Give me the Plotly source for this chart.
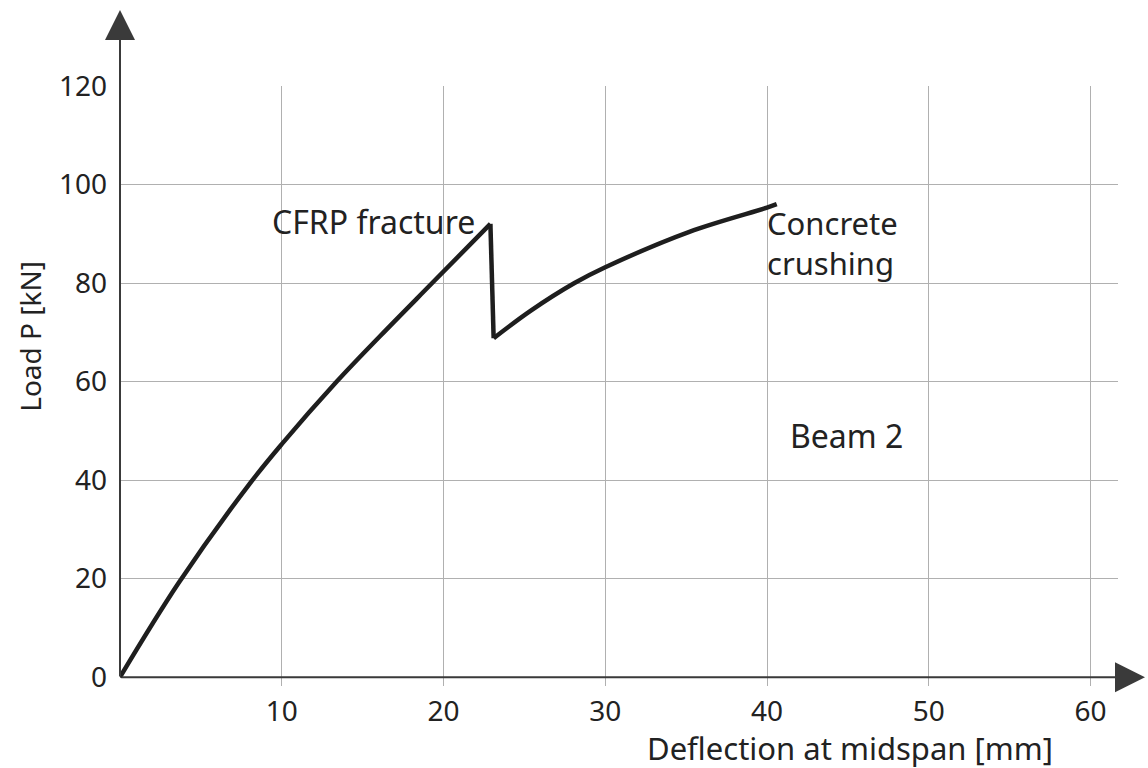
import plotly.graph_objects as go

# Data
deflection_mm = [0, 3.6, 8.0, 10.0, 13.4, 16.1, 19.3, 22.9, 23.1, 25.4, 28.1, 30.0, 35.2, 40.0, 40.6]
load_kN = [0, 19.0, 39.2, 47.3, 60.0, 69.3, 80.0, 92.0, 68.8, 74.4, 80.0, 83.2, 90.4, 95.3, 96.0]

x_ticks = [10, 20, 30, 40, 50, 60]
y_ticks = [0, 20, 40, 60, 80, 100, 120]

PEAK = 7      # index of CFRP fracture point
DROP = 8      # index of the bottom of the load drop

FONT = "Noto Sans"
TXT = "#222222"
LINE = dict(color="#1e1e1e", width=4.5)

fig = go.Figure()
# pre-fracture branch
fig.add_trace(go.Scatter(
    x=deflection_mm[:PEAK + 1], y=load_kN[:PEAK + 1], mode="lines",
    line=dict(**LINE, shape="spline", smoothing=1.0),
    hoverinfo="skip", showlegend=False,
))
# load drop at fracture
fig.add_trace(go.Scatter(
    x=deflection_mm[PEAK:DROP + 1], y=load_kN[PEAK:DROP + 1], mode="lines",
    line=dict(**LINE), hoverinfo="skip", showlegend=False,
))
# post-fracture branch
fig.add_trace(go.Scatter(
    x=deflection_mm[DROP:], y=load_kN[DROP:], mode="lines",
    line=dict(**LINE, shape="spline", smoothing=1.0),
    hoverinfo="skip", showlegend=False,
))

# plot area: left 120px, width 998px; top 86px, height 600.5px
L, W, T, H = 120, 998, 86, 600.5

fig.update_layout(
    width=1148, height=768,
    margin=dict(l=L, r=1148 - L - W, t=T, b=768 - T - H, pad=0),
    paper_bgcolor="white", plot_bgcolor="white",
    font=dict(family=FONT, color=TXT, size=28),
    showlegend=False,
)
fig.update_xaxes(
    range=[0, 61.7], tickvals=x_ticks, ticktext=[str(v) for v in x_ticks],
    showgrid=True, gridcolor="#b0b0b0", gridwidth=1,
    zeroline=False, showline=False, ticks="", ticklabelstandoff=6,
    tickfont=dict(family=FONT, size=28, color=TXT),
)
fig.update_yaxes(
    range=[-1.8, 120], tickvals=y_ticks, ticktext=[str(v) for v in y_ticks],
    showgrid=True, gridcolor="#b0b0b0", gridwidth=1,
    zeroline=False, showline=False, ticks="", ticklabelstandoff=12,
    tickfont=dict(family=FONT, size=28, color=TXT),
)

def px_to_paper_x(px):
    return (px - L) / W

def px_to_paper_y(py):
    return (T + H - py) / H

# Axis arrows
fig.add_annotation(
    x=0, y=px_to_paper_y(10), xref="x", yref="paper",
    ax=0, ay=668, axref="pixel", ayref="pixel",
    showarrow=True, arrowhead=2, arrowsize=3, arrowwidth=2, arrowcolor="#3a3a3a",
    standoff=0, text="",
)
fig.add_annotation(
    x=px_to_paper_x(1145), y=0, xref="paper", yref="y",
    ax=-(1145 - 120), ay=0, axref="pixel", ayref="pixel",
    showarrow=True, arrowhead=2, arrowsize=3, arrowwidth=2, arrowcolor="#3a3a3a",
    standoff=0, text="",
)

# Text labels
fig.add_annotation(x=22.1, y=92.5, xref="x", yref="y", text="CFRP fracture",
                   showarrow=False, xanchor="right", yanchor="middle",
                   font=dict(family=FONT, size=32, color=TXT))
fig.add_annotation(x=39.9, y=88.2, xref="x", yref="y", text="Concrete<br>crushing",
                   showarrow=False, xanchor="left", yanchor="middle", align="left",
                   font=dict(family=FONT, size=31, color=TXT))
fig.add_annotation(x=44.9, y=49.1, xref="x", yref="y", text="Beam 2",
                   showarrow=False, xanchor="center", yanchor="middle",
                   font=dict(family=FONT, size=32, color=TXT))

# Axis titles
fig.add_annotation(x=px_to_paper_x(850), y=px_to_paper_y(749), xref="paper", yref="paper",
                   text="Deflection at midspan [mm]", showarrow=False,
                   xanchor="center", yanchor="middle",
                   font=dict(family=FONT, size=31, color=TXT))
fig.add_annotation(x=px_to_paper_x(30), y=px_to_paper_y(337), xref="paper", yref="paper",
                   text="Load P [kN]", showarrow=False, textangle=-90,
                   xanchor="center", yanchor="middle",
                   font=dict(family=FONT, size=28, color=TXT))

fig.write_html("out.html")
